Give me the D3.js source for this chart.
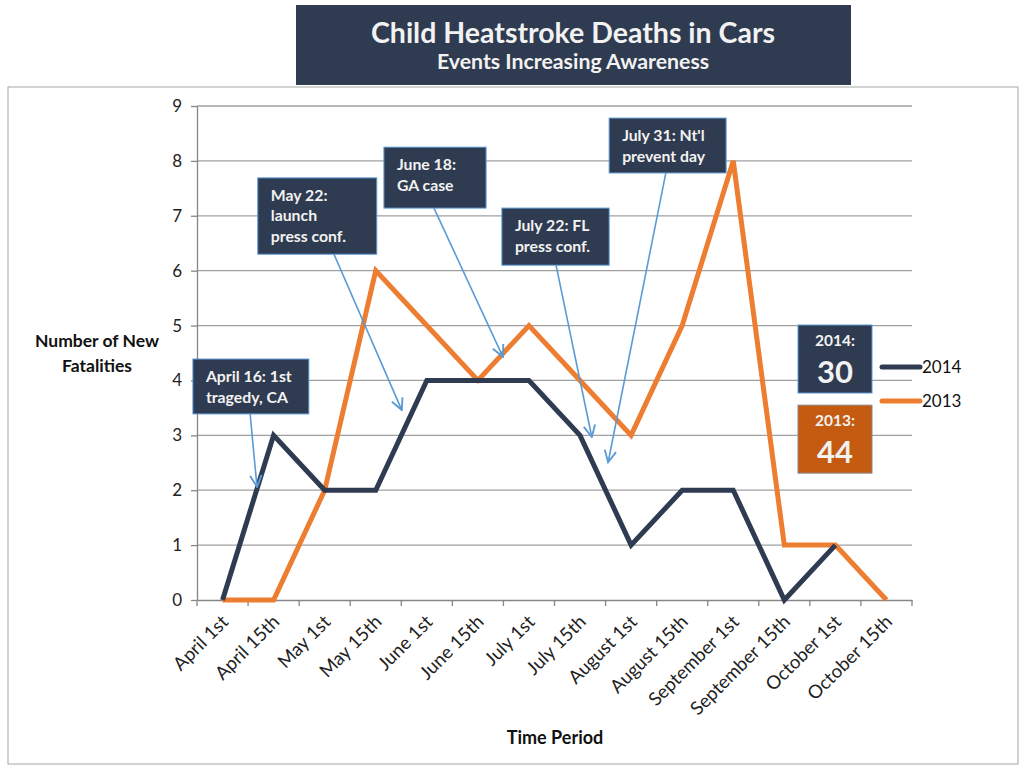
<!DOCTYPE html>
<html>
<head>
<meta charset="utf-8">
<script src="https://cdn.jsdelivr.net/npm/d3@7"></script>
<style>
  body { margin: 0; background: #fff; }
  text { font-family: Lato, "Open Sans", sans-serif; }
</style>
</head>
<body>
<script>
const w = 1030;
const h = 769;

const periods = ["April 1st", "April 15th", "May 1st", "May 15th", "June 1st", "June 15th",
  "July 1st", "July 15th", "August 1st", "August 15th", "September 1st", "September 15th",
  "October 1st", "October 15th"];
const deaths2014 = [0, 3, 2, 2, 4, 4, 4, 3, 1, 2, 2, 0, 1];
const deaths2013 = [0, 0, 2, 6, 5, 4, 5, 4, 3, 5, 8, 1, 1, 0];
const yTicks = [0, 1, 2, 3, 4, 5, 6, 7, 8, 9];
const seriesNames = ["2014", "2013"];
const totals = [30, 44];

// annotation text, box corners (period index, value) and arrow start/tip in data units
const notes = [
  { lines: ["April 16: 1st", "tragedy, CA"], box: [-0.58, 4.39, 1.69, 3.39], from: [0.54, 3.39], to: [0.675, 2.06] },
  { lines: ["May 22:", "launch", "press conf."], box: [0.69, 7.69, 3.02, 6.30], from: [2.14, 6.39], to: [3.51, 3.46] },
  { lines: ["June 18:", "GA case"], box: [3.16, 8.25, 5.16, 7.14], from: [4.14, 7.14], to: [5.49, 4.43] },
  { lines: ["July 22: FL", "press conf."], box: [5.47, 7.14, 7.57, 6.10], from: [6.53, 6.10], to: [7.23, 2.97] },
  { lines: ["July 31: Nt'l", "prevent day"], box: [7.57, 8.78, 9.86, 7.78], from: [8.68, 7.78], to: [7.55, 2.51] }
];

const navy = "#2f3b50";
const orange = "#ed7d31";
const noteBlue = "#5b9bd5";

const svg = d3.select("body")
              .append("svg")
              .attr("width", w)
              .attr("height", h);

// outer frame
svg.append("rect")
  .attr("x", 8).attr("y", 87).attr("width", 1010).attr("height", 677)
  .attr("fill", "none").attr("stroke", "#a6a6a6").attr("stroke-width", 1);

// title block
svg.append("rect")
  .attr("x", 296).attr("y", 5).attr("width", 555).attr("height", 80)
  .attr("fill", navy);
svg.append("text")
  .attr("x", 573).attr("y", 43)
  .attr("text-anchor", "middle").attr("fill", "#f2f2f2")
  .attr("font-size", 28.5).attr("font-weight", "bold")
  .text("Child Heatstroke Deaths in Cars");
svg.append("text")
  .attr("x", 573).attr("y", 69)
  .attr("text-anchor", "middle").attr("fill", "#f2f2f2")
  .attr("font-size", 21.3).attr("font-weight", "bold")
  .text("Events Increasing Awareness");

const xScale = d3.scaleBand()
  .domain(periods)
  .range([197, 912]);
const bw = xScale.bandwidth();
// fractional period index -> pixel
const xi = d3.scaleLinear()
  .domain([0, 1])
  .range([xScale(periods[0]) + bw / 2, xScale(periods[1]) + bw / 2]);

const yScale = d3.scaleLinear()
  .domain([0, 9])
  .range([600, 106]);

// grid
svg.append("g")
  .selectAll("line")
  .data(yTicks.slice(1))
  .join("line")
  .attr("x1", 197).attr("x2", 912)
  .attr("y1", d => yScale(d)).attr("y2", d => yScale(d))
  .attr("stroke", "#a0a0a0").attr("stroke-width", 1.3);

// y axis
const yAxis = svg.append("g")
  .attr("transform", "translate(197,0)")
  .call(d3.axisLeft(yScale).tickValues(yTicks).tickSize(6).tickPadding(9).tickSizeOuter(0));
yAxis.select(".domain").attr("stroke", "#868686").attr("stroke-width", 1.3);
yAxis.selectAll(".tick line").attr("stroke", "#868686").attr("stroke-width", 1.3);
yAxis.selectAll(".tick text")
  .attr("font-size", 17).attr("fill", "#222")
  .style("font-family", "Lato, sans-serif");

// x axis
const xAxis = svg.append("g")
  .attr("transform", "translate(0,600)")
  .call(d3.axisBottom(xScale).tickSize(0).tickPadding(0));
xAxis.select(".domain").attr("stroke", "#868686").attr("stroke-width", 1.3);
xAxis.selectAll(".tick text")
  .attr("font-size", 18.6).attr("fill", "#222")
  .style("font-family", "Lato, sans-serif")
  .attr("text-anchor", "end")
  .attr("dy", 0)
  .attr("transform", "translate(7,23) rotate(-45)");
// boundary ticks between periods
svg.append("g")
  .selectAll("line")
  .data(periods.concat(["end"]))
  .join("line")
  .attr("x1", (d, i) => 197 + i * bw).attr("x2", (d, i) => 197 + i * bw)
  .attr("y1", 600).attr("y2", 606)
  .attr("stroke", "#868686").attr("stroke-width", 1.3);

// axis titles
svg.append("text")
  .attr("x", 97).attr("y", 347)
  .attr("text-anchor", "middle").attr("font-size", 17.5).attr("font-weight", "bold").attr("fill", "#111")
  .text("Number of New");
svg.append("text")
  .attr("x", 97).attr("y", 372)
  .attr("text-anchor", "middle").attr("font-size", 17.5).attr("font-weight", "bold").attr("fill", "#111")
  .text("Fatalities");
svg.append("text")
  .attr("x", 555).attr("y", 744)
  .attr("text-anchor", "middle").attr("font-size", 18).attr("font-weight", "bold").attr("fill", "#111")
  .text("Time Period");

// lines
const line = d3.line()
  .x((d, i) => xScale(periods[i]) + bw / 2)
  .y(d => yScale(d));

svg.append("path")
  .datum(deaths2013)
  .attr("fill", "none").attr("stroke", orange).attr("stroke-width", 5)
  .attr("stroke-linejoin", "miter")
  .attr("d", line);
svg.append("path")
  .datum(deaths2014)
  .attr("fill", "none").attr("stroke", navy).attr("stroke-width", 5)
  .attr("stroke-linejoin", "miter")
  .attr("d", line);

// arrowhead
svg.append("defs").append("marker")
  .attr("id", "arrow")
  .attr("viewBox", "0 0 10 10")
  .attr("refX", 9).attr("refY", 5)
  .attr("markerWidth", 9).attr("markerHeight", 9)
  .attr("orient", "auto")
  .append("path")
  .attr("d", "M1,1 L9,5 L1,9")
  .attr("fill", "none").attr("stroke", noteBlue).attr("stroke-width", 1.3);

// annotations
const noteG = svg.append("g");
notes.forEach(n => {
  const x0 = xi(n.box[0]), y0 = yScale(n.box[1]);
  const x1 = xi(n.box[2]), y1 = yScale(n.box[3]);
  noteG.append("line")
    .attr("x1", xi(n.from[0])).attr("y1", yScale(n.from[1]))
    .attr("x2", xi(n.to[0])).attr("y2", yScale(n.to[1]))
    .attr("stroke", noteBlue).attr("stroke-width", 1.6)
    .attr("marker-end", "url(#arrow)");
  noteG.append("rect")
    .attr("x", x0).attr("y", y0).attr("width", x1 - x0).attr("height", y1 - y0)
    .attr("fill", navy).attr("stroke", noteBlue).attr("stroke-width", 1);
  n.lines.forEach((t, k) => {
    noteG.append("text")
      .attr("x", x0 + 13).attr("y", y0 + 23 + k * 20.5)
      .attr("font-size", 15.8).attr("font-weight", "bold").attr("fill", "#f2f2f2")
      .text(t);
  });
});

// totals boxes
const totalColors = [navy, "#c55a11"];
const totalTops = [5.01, 3.55];
seriesNames.forEach((s, i) => {
  const top = yScale(totalTops[i]);
  svg.append("rect")
    .attr("x", 798).attr("y", top).attr("width", 74).attr("height", 68)
    .attr("fill", totalColors[i]).attr("stroke", i === 0 ? noteBlue : "#8a8a8a").attr("stroke-width", 1);
  svg.append("text")
    .attr("x", 835).attr("y", top + 21)
    .attr("text-anchor", "middle").attr("font-size", 15.5).attr("font-weight", "bold").attr("fill", "#f2f2f2")
    .text(s + ":");
  svg.append("text")
    .attr("x", 835).attr("y", top + 58)
    .attr("text-anchor", "middle").attr("font-size", 31).attr("font-weight", "bold").attr("fill", "#f2f2f2")
    .text(totals[i]);
});

// legend
const legendColors = [navy, orange];
const legend = svg.append("g")
  .selectAll("g")
  .data(seriesNames)
  .join("g")
  .attr("transform", (d, i) => "translate(880," + (367 + i * 34) + ")");
legend.append("line")
  .attr("x1", 2).attr("x2", 40)
  .attr("stroke", (d, i) => legendColors[i]).attr("stroke-width", 5)
  .attr("stroke-linecap", "round");
legend.append("text")
  .attr("x", 42).attr("y", 6)
  .attr("font-size", 17).attr("fill", "#111")
  .style("font-family", "Lato, sans-serif")
  .text(d => d);
</script>
</body>
</html>
